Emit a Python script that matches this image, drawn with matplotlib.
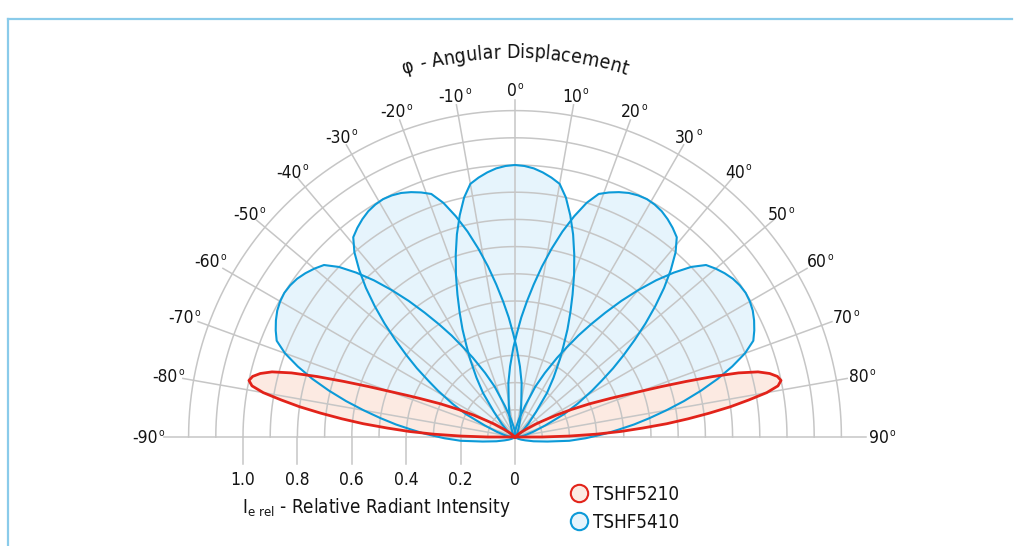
import numpy as np
import matplotlib
matplotlib.use("Agg")
import matplotlib.pyplot as plt
from matplotlib import font_manager
from matplotlib.patches import Polygon
from matplotlib.lines import Line2D

# ---------------- data ----------------
angle_ticks = [-90, -80, -70, -60, -50, -40, -30, -20, -10, 0, 10, 20, 30, 40, 50, 60, 70, 80, 90]
intensity_ticks = [1.0, 0.8, 0.6, 0.4, 0.2, 0.0]
intensity_tick_labels = ["1.0", "0.8", "0.6", "0.4", "0.2", "0"]
grid_radii = [0.1, 0.2, 0.3, 0.4, 0.5, 0.6, 0.7, 0.8, 0.9, 1.0, 1.1, 1.2]

# TSHF5410 lobe shape (offset from lobe axis in deg -> relative intensity)
blue_offsets = [0, 2, 4, 6, 8, 10, 12, 14, 16, 18, 20, 22, 24, 26, 28, 30, 33, 36, 40, 45, 50, 55, 60, 70, 80, 90]
blue_intensity = [1.0, 0.997, 0.99, 0.978, 0.963, 0.945, 0.90, 0.84, 0.775, 0.705, 0.635, 0.565, 0.50,
                  0.44, 0.38, 0.33, 0.26, 0.20, 0.12, 0.07, 0.04, 0.025, 0.015, 0.005, 0.0, 0.0]
blue_centers = [-58, -29, 0, 29, 58]

# TSHF5210 lobe (angle in deg, right-hand lobe; mirrored to the left)
red_angles = [45, 50, 55, 58, 60, 62, 64, 66, 68, 69, 70, 71, 72, 73, 74, 75, 76, 77, 78, 79, 80,
              81, 82, 83, 84, 85, 86, 87, 88, 89, 90]
red_intensity = [0.0, 0.02, 0.05, 0.09, 0.12, 0.17, 0.23, 0.30, 0.38, 0.43, 0.49, 0.57, 0.66, 0.76,
                 0.855, 0.925, 0.965, 0.99, 1.0, 0.985, 0.94, 0.87, 0.80, 0.72, 0.64, 0.56, 0.47, 0.39,
                 0.30, 0.20, 0.10]
red_sides = [-1, 1]

series_names = ["TSHF5210", "TSHF5410"]
title_text = "\u03c6 - Angular Displacement"
xlabel_text = r"I$_{\mathrm{e\ rel}}$ - Relative Radiant Intensity"

# ---------------- style ----------------
W, H = 1018, 546
CX, CY = 515, 437          # pixel centre of the polar plot
PX = 272.0                 # pixels per unit intensity
RED = "#E2231A"
RED_FILL = "#FCEAE2"
BLUE = "#0C9AD8"
BLUE_FILL = "#E6F4FC"
GRID = "#C6C6C6"
FRAME = "#8ACBEA"
TXT = "#141414"

FAM = "DejaVu Sans"
FS_NUM = 12.5
FS_TXT = 13.5
plt.rcParams["font.family"] = FAM
plt.rcParams["mathtext.fontset"] = "custom"
plt.rcParams["mathtext.rm"] = FAM + ":stretch=condensed"
plt.rcParams["mathtext.it"] = FAM + ":italic:stretch=condensed"
num_props = dict(fontsize=FS_NUM, color=TXT, fontstretch="condensed")
txt_props = dict(fontsize=FS_TXT, color=TXT, fontstretch="condensed")

fig = plt.figure(figsize=(W / 100, H / 100), dpi=100)
ax = fig.add_axes([0, 0, 1, 1])
ax.set_xlim(-CX / PX, (W - CX) / PX)
ax.set_ylim(-(H - CY) / PX, CY / PX)
ax.set_aspect("equal")
ax.axis("off")
fig.canvas.draw()
renderer = fig.canvas.get_renderer()


def tw(s, size):
    if not s:
        return 0.0
    fp = font_manager.FontProperties(family=FAM, size=size, stretch="condensed")
    w, h, d = renderer.get_text_width_height_descent(s, fp, ismath=False)
    return w


def pol(theta_deg, r):
    t = np.radians(np.asarray(theta_deg, dtype=float))
    r = np.asarray(r, dtype=float)
    return r * np.sin(t), r * np.cos(t)


# ---------- lobes: fills ----------
bo = np.array(blue_offsets, dtype=float)
bi = np.array(blue_intensity, dtype=float)
blue_polys = []
for c in blue_centers:
    ang = np.concatenate([c - bo[::-1], c + bo[1:]])
    val = np.concatenate([bi[::-1], bi[1:]])
    x, y = pol(ang, val)
    xy = np.column_stack([np.r_[0, x, 0], np.r_[0, y, 0]])
    blue_polys.append(xy)
    ax.add_patch(Polygon(xy, closed=True, facecolor=BLUE_FILL, edgecolor="none", zorder=1))

red_polys = []
for s in red_sides:
    x, y = pol(s * np.array(red_angles, dtype=float), red_intensity)
    xy = np.column_stack([np.r_[0, x, 0], np.r_[0, y, 0]])
    red_polys.append(xy)
    ax.add_patch(Polygon(xy, closed=True, facecolor=RED_FILL, edgecolor="none", zorder=1.5))

# ---------- grid ----------
arc = np.linspace(-90, 90, 361)
for r in grid_radii:
    x, y = pol(arc, np.full_like(arc, r))
    ax.plot(x, y, color=GRID, lw=1.1, zorder=2)
for a in angle_ticks:
    rend = 1.29 if abs(a) == 90 else 1.24
    x, y = pol([a, a], [0, rend])
    ax.plot(x, y, color=GRID, lw=1.1, zorder=2)
for v in intensity_ticks:
    ax.plot([-v, -v], [0, -0.1], color=GRID, lw=1.1, zorder=2)

# ---------- lobes: outlines ----------
for xy in blue_polys:
    ax.plot(xy[:, 0], xy[:, 1], color=BLUE, lw=1.5, zorder=3, solid_joinstyle="round")
for xy in red_polys:
    ax.plot(xy[:, 0], xy[:, 1], color=RED, lw=2.0, zorder=4, solid_joinstyle="round")

# ---------- angle labels (number + small raised "o") ----------
DIGIT_H = 0.73 * FS_NUM * 100 / 72.0
FS_DEG = 7.5
O_H = 0.56 * FS_DEG * 100 / 72.0
for a in angle_ticks:
    if abs(a) == 90:
        rl = 367
    elif abs(a) >= 60:
        rl = 352
    else:
        rl = 347
    lx, ly = pol(a, rl)                # pixel offsets from centre
    s = f"{a}"
    w1 = tw(s, FS_NUM)
    w2 = tw("o", FS_DEG)
    left = lx - (w1 + w2 + 1.0) / 2
    base = ly - DIGIT_H / 2
    ax.text(left / PX, base / PX, s, ha="left", va="baseline", zorder=5, **num_props)
    ax.text((left + w1 + 1.0) / PX, (base + DIGIT_H - O_H + 0.5) / PX, "o", ha="left", va="baseline",
            fontsize=FS_DEG, color=TXT, fontstretch="condensed", zorder=5)

# ---------- intensity labels ----------
for v, lab in zip(intensity_ticks, intensity_tick_labels):
    ax.text(-v, (CY - 480) / PX, lab, ha="center", va="center", **num_props)
ax.text((376.5 - CX) / PX, (CY - 513) / PX, xlabel_text, ha="center", va="baseline", **txt_props)

# ---------- curved title ----------
R_title = 379.0
FS_TITLE = 14.0
total = tw(title_text, FS_TITLE)
for i, ch in enumerate(title_text):
    s_mid = tw(title_text[:i], FS_TITLE) + tw(ch, FS_TITLE) / 2 - total / 2
    th = s_mid / R_title
    x, y = np.sin(th) * R_title / PX, np.cos(th) * R_title / PX
    ax.text(x, y, ch, ha="center", va="baseline", rotation=-np.degrees(th),
            rotation_mode="anchor", fontsize=FS_TITLE, color=TXT, fontstretch="condensed")

# ---------- legend ----------
leg_y = [493, 521]
leg_cols = [(RED, RED_FILL), (BLUE, BLUE_FILL)]
for name, yy, (ec, fc) in zip(series_names, leg_y, leg_cols):
    ax.plot([(579 - CX) / PX], [(CY - yy) / PX], marker="o", ms=12.5, mfc=fc, mec=ec, mew=1.5,
            ls="none", zorder=5)
    ax.text((593 - CX) / PX, (CY - yy - 1) / PX, name, ha="left", va="center", **txt_props)

# ---------- frame ----------
fig.add_artist(Line2D([8 / W, 8 / W], [0, 1 - 19 / H], transform=fig.transFigure, color=FRAME, lw=1.6))
fig.add_artist(Line2D([8 / W, 1012 / W], [1 - 19 / H, 1 - 19 / H], transform=fig.transFigure, color=FRAME, lw=1.6))

fig.savefig("out.png", dpi=100)
